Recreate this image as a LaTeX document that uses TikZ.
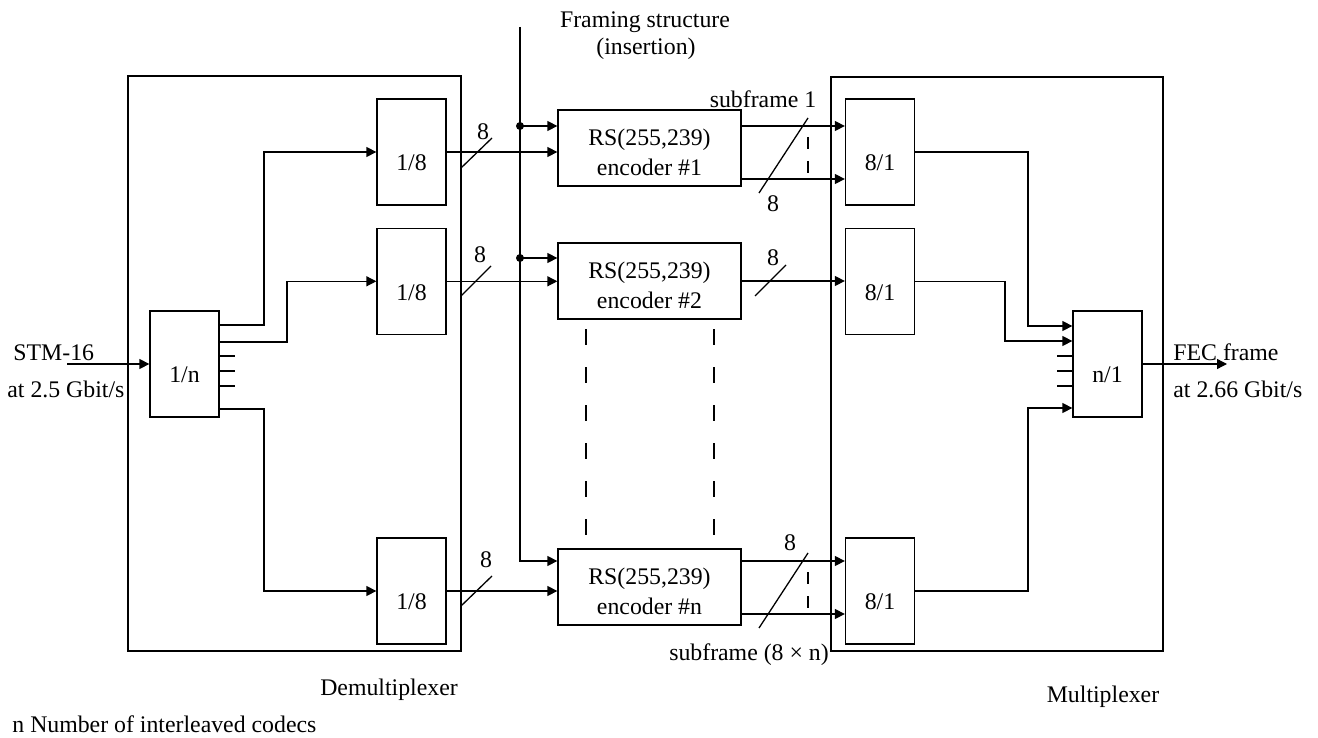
\documentclass[tikz,border=0pt]{standalone}
\usepackage{fontspec}
\setmainfont{Liberation Serif}
\usetikzlibrary{positioning, arrows.meta}

\tikzset{
  outerbox/.style={draw, line width=0.65pt, inner sep=0pt},
  blk/.style={draw, line width=0.65pt, minimum width=34.5pt, minimum height=53pt,
    inner sep=0pt, text height=18.8pt, text depth=0pt},
  enc/.style={draw, line width=0.65pt, minimum width=91.5pt, minimum height=38pt,
    inner sep=0pt, align=center},
  sig/.style={line width=0.65pt, -{Triangle[length=5pt,width=5pt]}},
  wire/.style={line width=0.65pt},
  lbl/.style={inner sep=0pt},
}

\begin{document}
\begin{tikzpicture}[x=0.5pt, y=-0.5pt, font=\fontsize{11.9pt}{14pt}\selectfont]
  \useasboundingbox (0,0) rectangle (1318,738);

  % demultiplexer side
  \node[outerbox, minimum width=166.5pt, minimum height=287.5pt] (dmx) at (294.5,363.5) {};
  \node[blk] (dn) at (184.5,364) {1/n};
  \node[blk] (d1) at (411.5,152) {1/8};
  \node[blk, below=11pt of d1] (d2) {1/8};
  \node[blk] (d3) at (411.5,591) {1/8};

  % encoders
  \node[enc] (e1) at (649.5,148) {\rule{0pt}{12.5pt}RS(255,239)\\[1pt]encoder \#1};
  \node[enc] (e2) at (649.5,281) {\rule{0pt}{12.5pt}RS(255,239)\\[1pt]encoder \#2};
  \node[enc] (e3) at (649.5,587) {\rule{0pt}{12.5pt}RS(255,239)\\[1pt]encoder \#n};

  % multiplexer side
  \node[outerbox, minimum width=166pt, minimum height=287pt] (mux) at (997,364) {};
  \node[blk] (m1) at (880,152) {8/1};
  \node[blk, below=11pt of m1] (m2) {8/1};
  \node[blk] (m3) at (880,591) {8/1};
  \node[blk] (mn) at (1107.5,364) {n/1};

  % input and output
  \coordinate (stm) at (67,364);
  \coordinate (fec) at (1227,364);
  \draw[sig] (stm) -- (dn.west);
  \draw[sig] (mn.east) -- (fec);
  \node[lbl, anchor=base west] (stmtxt) at (13,360) {STM-16};
  \node[lbl, anchor=base west] (stmrate) at (7,397) {at 2.5 Gbit/s};
  \node[lbl, anchor=base west] (fectxt) at (1173,360) {FEC frame};
  \node[lbl, anchor=base west] (fecrate) at (1173,397) {at 2.66 Gbit/s};

  % 1/n to the 1/8 boxes
  \draw[sig] (dn.east |- 0,325) -- (264,325) |- (d1.west);
  \draw[sig] (dn.east |- 0,342) -- (287,342) |- (d2.west);
  \draw[sig] (dn.east |- 0,409) -- (264,409) |- (d3.west);
  \foreach \y in {356,371,386}
    \draw[wire] (dn.east |- 0,\y) -- ++(15,0);

  % 1/8 boxes to encoders
  \draw[sig] (d1.east) -- (d1.east -| e1.west);
  \draw[sig] (d2.east) -- (d2.east -| e2.west);
  \draw[sig] (d3.east) -- (d3.east -| e3.west);
  \draw[wire] (461,168) -- (492,138);
  \draw[wire] (461,296) -- (491,266);
  \draw[wire] (461,606) -- (492,576);
  \node[lbl, anchor=base] at (483,140) {8};
  \node[lbl, anchor=base] at (480,263) {8};
  \node[lbl, anchor=base] at (486,567) {8};

  % framing structure
  \coordinate (ftop) at (520,27);
  \coordinate (j1) at (520,126);
  \coordinate (j2) at (520,258);
  \draw[sig] (ftop) |- (e3.west |- 0,561);
  \draw[sig] (j1) -- (j1 -| e1.west);
  \draw[sig] (j2) -- (j2 -| e2.west);
  \fill (j1) circle (2pt);
  \fill (j2) circle (2pt);
  \node[lbl, anchor=base] (frm) at (645,28) {Framing structure};
  \node[lbl, anchor=base] (ins) at (646,55) {(insertion)};

  % dashed continuation between encoders
  \draw[wire, dash pattern=on 8pt off 11pt] (586,329) -- (586,535);
  \draw[wire, dash pattern=on 8pt off 11pt] (714,329) -- (714,535);

  % encoders to 8/1 boxes
  \draw[sig] (e1.east |- 0,126) -- (m1.west |- 0,126);
  \draw[sig] (e1.east |- 0,179) -- (m1.west |- 0,179);
  \draw[sig] (e2.east) -- (e2.east -| m2.west);
  \draw[sig] (e3.east |- 0,561) -- (m3.west |- 0,561);
  \draw[sig] (e3.east |- 0,614) -- (m3.west |- 0,614);
  \draw[wire, dash pattern=on 6pt off 6pt] (808,137) -- (808,175);
  \draw[wire, dash pattern=on 6pt off 6pt] (808,572) -- (808,610);
  \draw[wire] (759,193) -- (808,118);
  \draw[wire] (755,296) -- (786,265);
  \draw[wire] (759,628) -- (808,553);
  \node[lbl, anchor=base] at (763,108) {subframe 1};
  \node[lbl, anchor=base] at (773,212) {8};
  \node[lbl, anchor=base] at (773,265) {8};
  \node[lbl, anchor=base] at (790,550) {8};
  \node[lbl, anchor=base] at (749,660) {subframe (8 × n)};

  % 8/1 boxes to n/1
  \draw[sig] (m1.east) -- (m1.east -| 1028,0) |- (mn.west |- 0,326);
  \draw[sig] (m2.east) -- (m2.east -| 1005,0) |- (mn.west |- 0,341);
  \draw[sig] (m3.east) -- (m3.east -| 1028,0) |- (mn.west |- 0,408);
  \foreach \y in {356,371,386}
    \draw[wire] (1057,\y) -- (mn.west |- 0,\y);

  % captions
  \node[lbl, anchor=base] (dmxtxt) at (389,695) {Demultiplexer};
  \node[lbl, anchor=base] (muxtxt) at (1103,702) {Multiplexer};
  \node[lbl, anchor=base west] (note) at (12,732) {n Number of interleaved codecs};
\end{tikzpicture}
\end{document}
